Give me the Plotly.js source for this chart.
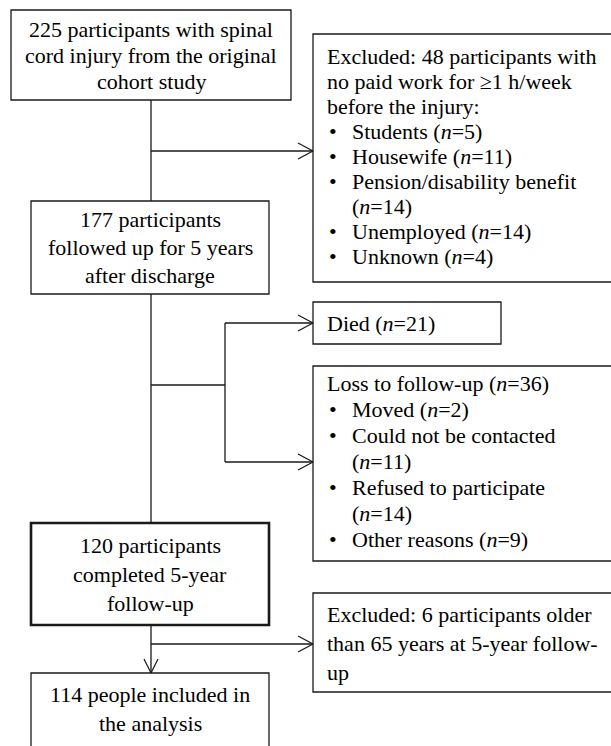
<!DOCTYPE html>
<html><head><meta charset="utf-8">
<script src="https://cdn.plot.ly/plotly-3.0.1.min.js"></script>
<style>html,body{margin:0;padding:0;background:#fff}</style>
</head><body><div id="chart" style="width:611px;height:746px"></div>
<script>
// ---- content (data) ----
const box1Lines = ["225 participants with spinal", "cord injury from the original", "cohort study"];
const box2Lines = ["177 participants", "followed up for 5 years", "after discharge"];
const box3Lines = ["120 participants", "completed 5-year", "follow-up"];
const box4Lines = ["114 people included in", "the analysis"];
const excl1Header = ["Excluded: 48 participants with", "no paid work for \u22651 h/week", "before the injury:"];
const excl1Reasons = ["Students", "Housewife", "Pension/disability benefit", "Unemployed", "Unknown"];
const excl1Counts = [5, 11, 14, 14, 4];
const diedLabel = "Died";
const diedCount = 21;
const lossLabel = "Loss to follow-up";
const lossTotal = 36;
const lossReasons = ["Moved", "Could not be contacted", "Refused to participate", "Other reasons"];
const lossCounts = [2, 11, 14, 9];
const excl3Lines = ["Excluded: 6 participants older", "than 65 years at 5-year follow-", "up"];

// ---- layout geometry / style ----
const W = 611, H = 746;
const FONT = {family: "Liberation Serif", size: 22, color: "#000"};
const LC = "#1a1a1a", LW = 1.3;
const excl1Wrap = [false, false, true, false, false];
const lossWrap = [false, true, true, false];

const shapes = [];
const ann = [];
function line(x0, y0, x1, y1, w) {
  shapes.push({type: "line", xref: "x", yref: "y", x0, y0, x1, y1, line: {color: LC, width: w || LW}});
}
function rect(x0, x1, y0, y1, w) {
  shapes.push({type: "rect", xref: "x", yref: "y", x0, x1, y0, y1, line: {color: LC, width: w || LW}, fillcolor: "rgba(0,0,0,0)"});
}
function arrowR(x, y) { line(x - 15, y - 8, x, y); line(x - 15, y + 8, x, y); }
function arrowD(x, y) { line(x - 7, y - 14, x, y); line(x + 7, y - 14, x, y); }
function txt(s, x, y, anchor) {
  ann.push({text: s, x, y, xref: "x", yref: "y", showarrow: false, xanchor: anchor || "left", yanchor: "middle", font: FONT});
}
function nTxt(n) { return "(<i>n</i>=" + n + ")"; }

const RX0 = 313, RX1 = 660, TX = 325, BX = 333, BTX = 350;
const MX = 151;

// main boxes
rect(11, 291, 10, 100);
box1Lines.forEach((s, i) => txt(s, 151, 29 + i * 26, "center"));
rect(31, 269, 201, 294);
box2Lines.forEach((s, i) => txt(s, 150, 219 + i * 28, "center"));
rect(31, 269, 523, 625, 2.6);
box3Lines.forEach((s, i) => txt(s, 150, 545 + i * 29, "center"));
rect(31, 269, 673, 800);
box4Lines.forEach((s, i) => txt(s, 150, 694 + i * 29, "center"));

// connectors
line(MX, 100, MX, 201);
line(MX, 151, RX0, 151); arrowR(RX0, 151);
line(MX, 294, MX, 523);
line(MX, 385, 225, 385);
line(225, 323, 225, 462);
line(225, 323, RX0, 323); arrowR(RX0, 323);
line(225, 462, RX0, 462); arrowR(RX0, 462);
line(MX, 625, MX, 673); arrowD(MX, 673);
line(MX, 644, RX0, 644); arrowR(RX0, 644);

// excluded box 1
rect(RX0, RX1, 34, 282);
let y = 56; const sp1 = 25;
excl1Header.forEach(s => { txt(s, TX, y); y += sp1; });
excl1Reasons.forEach((r, i) => {
  txt("\u2022", BX, y, "center");
  if (excl1Wrap[i]) { txt(r, BTX, y); y += sp1; txt(nTxt(excl1Counts[i]), BTX, y); }
  else txt(r + " " + nTxt(excl1Counts[i]), BTX, y);
  y += sp1;
});

// died box
rect(RX0, 501, 302, 344);
txt(diedLabel + " " + nTxt(diedCount), TX, 323);

// loss box
rect(RX0, RX1, 366, 561);
y = 383; const sp2 = 26;
txt(lossLabel + " " + nTxt(lossTotal), TX, y); y += sp2;
lossReasons.forEach((r, i) => {
  txt("\u2022", BX, y, "center");
  if (lossWrap[i]) { txt(r, BTX, y); y += sp2; txt(nTxt(lossCounts[i]), BTX, y); }
  else txt(r + " " + nTxt(lossCounts[i]), BTX, y);
  y += sp2;
});

// excluded box 3
rect(RX0, RX1, 593, 692);
excl3Lines.forEach((s, i) => txt(s, TX, 614 + i * 29));

const layout = {
  width: W, height: H,
  margin: {l: 0, r: 0, t: 0, b: 0, pad: 0},
  paper_bgcolor: "#fff", plot_bgcolor: "#fff",
  xaxis: {range: [0, W], visible: false, fixedrange: true},
  yaxis: {range: [H, 0], visible: false, fixedrange: true},
  showlegend: false,
  shapes: shapes,
  annotations: ann
};
Plotly.newPlot("chart", [], layout, {staticPlot: true, displayModeBar: false});
</script></body></html>
